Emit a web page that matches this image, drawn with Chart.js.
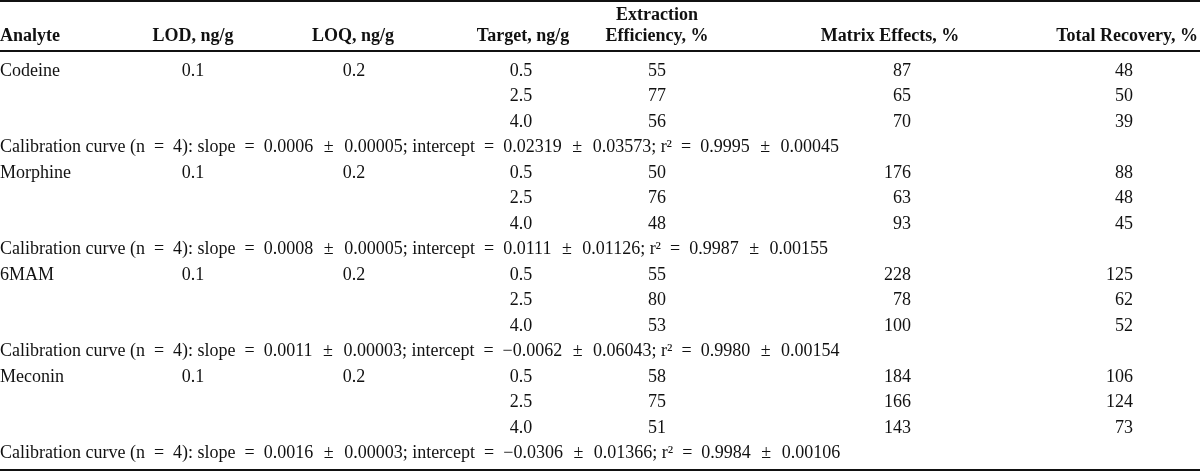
<!DOCTYPE html>
<html>
<head>
<meta charset="utf-8">
<script src="https://cdn.jsdelivr.net/npm/chart.js@4.4.1/dist/chart.umd.min.js"></script>
<style>
html,body{margin:0;padding:0;background:#fff;}
#wrap{width:1200px;height:472px;position:relative;}
</style>
</head>
<body>
<div id="wrap"><canvas id="c"></canvas></div>
<script>
// ---------- DATA ----------
const analytes = ['Codeine', 'Morphine', '6MAM', 'Meconin'];
const lodValues = ['0.1', '0.1', '0.1', '0.1'];
const loqValues = ['0.2', '0.2', '0.2', '0.2'];
const targetLevels = ['0.5', '2.5', '4.0'];
const extractionEfficiency = [[55, 77, 56], [50, 76, 48], [55, 80, 53], [58, 75, 51]];
const matrixEffects = [[87, 65, 70], [176, 63, 93], [228, 78, 100], [184, 166, 143]];
const totalRecovery = [[48, 50, 39], [88, 48, 45], [125, 62, 52], [106, 124, 73]];
const calibrationN = [4, 4, 4, 4];
const slopes = ['0.0006', '0.0008', '0.0011', '0.0016'];
const slopeSD = ['0.00005', '0.00005', '0.00003', '0.00003'];
const intercepts = ['0.02319', '0.0111', '\u22120.0062', '\u22120.0306'];
const interceptSD = ['0.03573', '0.01126', '0.06043', '0.01366'];
const r2Values = ['0.9995', '0.9987', '0.9980', '0.9984'];
const r2SD = ['0.00045', '0.00155', '0.00154', '0.00106'];
const headerLabels = ['Analyte', 'LOD, ng/g', 'LOQ, ng/g', 'Target, ng/g', ['Extraction', 'Efficiency, %'], 'Matrix Effects, %', 'Total Recovery, %'];

// ---------- LAYOUT (x-scale anchors, row geometry) ----------
const COL_X = { analyte: 0, lod: 193, loq: 354, target: 521, extraction: 657, matrix: 911, recovery: 1133 };
const HEAD_X = [0, 193, 353, 523, 657, 890, 1198];
const HEAD_ALIGN = ['left', 'center', 'center', 'center', 'center', 'center', 'right'];
const HEAD_ROWS = [-2.14, -1.33];
const RULES = [{ y: -2.71, w: 2 }, { y: -0.75, w: 2 }, { y: 15.69, w: 2 }];
const FONT = '18px "Liberation Serif", "Times New Roman", serif';
const FONT_B = 'bold 18px "Liberation Serif", "Times New Roman", serif';
const INK = '#111';
const EQ_SP = '\u2002';        // space around "="
const PM_SP = '\u2002\u200a';  // slightly wider space around "±"

const ROWS_PER_GROUP = 4;
function makeDataset(name, align, builder) {
  const pts = [], texts = [];
  analytes.forEach((a, g) => builder(g).forEach(([x, r, t]) => { pts.push({ x: x, y: g * ROWS_PER_GROUP + r }); texts.push(t); }));
  return { label: name, data: pts, texts: texts, align: align, pointRadius: 0, pointHoverRadius: 0, showLine: false };
}
const eq = EQ_SP + '=' + EQ_SP;
const pm = PM_SP + '\u00b1' + PM_SP;
const datasets = [
  makeDataset('Analyte', 'left', g => [[COL_X.analyte, 0, analytes[g]]]),
  makeDataset('LOD', 'center', g => [[COL_X.lod, 0, lodValues[g]]]),
  makeDataset('LOQ', 'center', g => [[COL_X.loq, 0, loqValues[g]]]),
  makeDataset('Target', 'center', g => targetLevels.map((t, k) => [COL_X.target, k, t])),
  makeDataset('Extraction', 'center', g => extractionEfficiency[g].map((v, k) => [COL_X.extraction, k, String(v)])),
  makeDataset('Matrix', 'right', g => matrixEffects[g].map((v, k) => [COL_X.matrix, k, String(v)])),
  makeDataset('Recovery', 'right', g => totalRecovery[g].map((v, k) => [COL_X.recovery, k, String(v)])),
  makeDataset('Calibration', 'left', g => [[COL_X.analyte, 3,
    'Calibration curve (n' + eq + calibrationN[g] + '): slope' + eq + slopes[g] + pm + slopeSD[g] +
    '; intercept' + eq + intercepts[g] + pm + interceptSD[g] + '; r\u00b2' + eq + r2Values[g] + pm + r2SD[g]]])
];

const tablePlugin = {
  id: 'tableText',
  afterDatasetsDraw(chart) {
    const ctx = chart.ctx, xs = chart.scales.x, ys = chart.scales.y;
    ctx.save();
    ctx.strokeStyle = INK;
    RULES.forEach(r => {
      const y = ys.getPixelForValue(r.y);
      ctx.lineWidth = r.w;
      ctx.beginPath(); ctx.moveTo(xs.left, y); ctx.lineTo(xs.right, y); ctx.stroke();
    });
    ctx.fillStyle = INK;
    ctx.textBaseline = 'middle';
    ctx.font = FONT_B;
    headerLabels.forEach((h, i) => {
      ctx.textAlign = HEAD_ALIGN[i];
      const x = xs.getPixelForValue(HEAD_X[i]);
      if (Array.isArray(h)) {
        h.forEach((line, k) => ctx.fillText(line, x, ys.getPixelForValue(HEAD_ROWS[k])));
      } else {
        ctx.fillText(h, x, ys.getPixelForValue(HEAD_ROWS[1]));
      }
    });
    ctx.font = FONT;
    chart.data.datasets.forEach((ds, di) => {
      const meta = chart.getDatasetMeta(di);
      ctx.textAlign = ds.align;
      meta.data.forEach((el, i) => ctx.fillText(ds.texts[i], el.x, el.y + 1));
    });
    ctx.restore();
  }
};

new Chart(document.getElementById('c'), {
  type: 'scatter',
  data: { datasets: datasets },
  options: {
    responsive: true,
    maintainAspectRatio: false,
    animation: false,
    layout: { padding: 0 },
    plugins: { legend: { display: false }, tooltip: { enabled: false } },
    events: [],
    scales: {
      x: { type: 'linear', display: false, min: 0, max: 1200 },
      y: { type: 'linear', display: false, reverse: true, min: -70 / 25.5, max: (472 - 70) / 25.5 }
    }
  },
  plugins: [tablePlugin]
});
</script>
</body>
</html>
